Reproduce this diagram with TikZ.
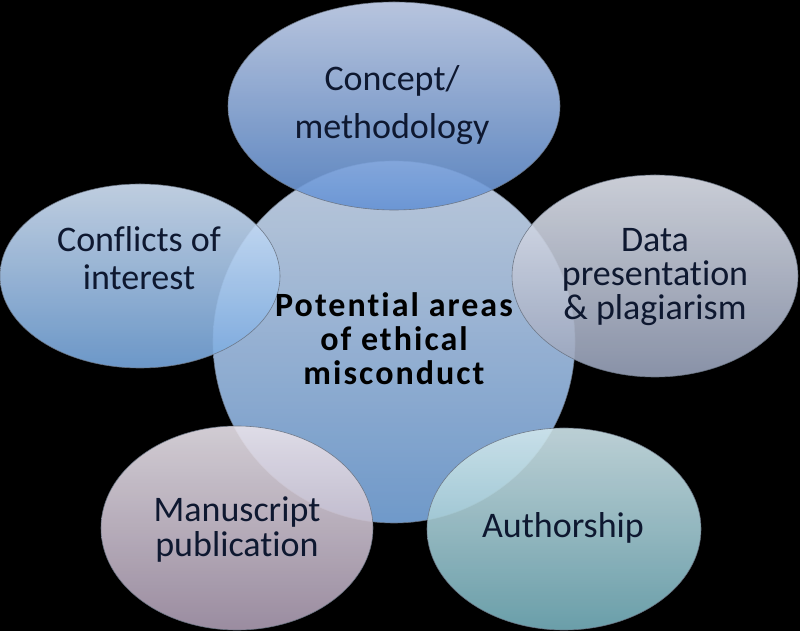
\documentclass[tikz,border=0pt]{standalone}
\usepackage{fontspec}
\setmainfont{Carlito}[Ligatures=NoCommon]
\usetikzlibrary{shapes.geometric}
\definecolor{edgecol}{RGB}{105,115,130}
\definecolor{navy}{RGB}{14,24,48}
\definecolor{cTop}{RGB}{208,222,242}
\definecolor{cBot}{RGB}{124,170,224}
\definecolor{tTop}{RGB}{204,218,246}
\definecolor{tBot}{RGB}{100,146,212}
\definecolor{lTop}{RGB}{212,228,248}
\definecolor{lBot}{RGB}{120,168,222}
\definecolor{rTop}{RGB}{224,228,238}
\definecolor{rBot}{RGB}{152,162,186}
\definecolor{mTop}{RGB}{232,226,234}
\definecolor{mBot}{RGB}{172,156,178}
\definecolor{aTop}{RGB}{208,230,236}
\definecolor{aBot}{RGB}{118,176,188}
\begin{document}
\begin{tikzpicture}[x=1pt,y=1pt,
  bubble/.style={ellipse, inner sep=0pt, draw=edgecol, line width=0.6pt,
    fill opacity=0.9, draw opacity=0.9},
  lab/.style={align=center, text=navy, anchor=base,
    font=\fontsize{36}{38}\selectfont},
  ]
\fill[black] (0,0) rectangle (800,631);
\useasboundingbox (0,0) rectangle (800,631);
% central circle
\node[bubble, circle, minimum size=362pt, top color=cTop, bottom color=cBot] (hub) at (394,289) {};
% satellites
\node[bubble, minimum width=332pt, minimum height=208pt, top color=tTop, bottom color=tBot] (concept) at (394,525) {};
\node[bubble, minimum width=280pt, minimum height=184pt, top color=lTop, bottom color=lBot] (conflicts) at (140,355) {};
\node[bubble, minimum width=286pt, minimum height=202pt, top color=rTop, bottom color=rBot] (data) at (655,355) {};
\node[bubble, minimum width=272pt, minimum height=204pt, top color=mTop, bottom color=mBot] (manuscript) at (237,103) {};
\node[bubble, minimum width=274pt, minimum height=202pt, top color=aTop, bottom color=aBot] (authorship) at (564,102) {};
% labels (anchor base = baseline of the last line)
\node[lab, font=\bfseries\fontsize{34}{34}\selectfont\addfontfeature{LetterSpace=6}, text=black] (hubtext) at (394,246) {Potential areas\\of ethical\\misconduct};
\node[lab, font=\fontsize{36}{48}\selectfont] (concepttext) at (392,492) {Concept/\\methodology};
\node[lab] (conflictstext) at (139,341) {Conflicts of\\interest};
\node[lab, font=\fontsize{36}{34}\selectfont] (datatext) at (655,311) {Data\\presentation\\\& plagiarism};
\node[lab, font=\fontsize{36}{35}\selectfont] (manuscripttext) at (237,74) {Manuscript\\publication};
\node[lab] (authorshiptext) at (563,93) {Authorship};
\end{tikzpicture}
\end{document}
